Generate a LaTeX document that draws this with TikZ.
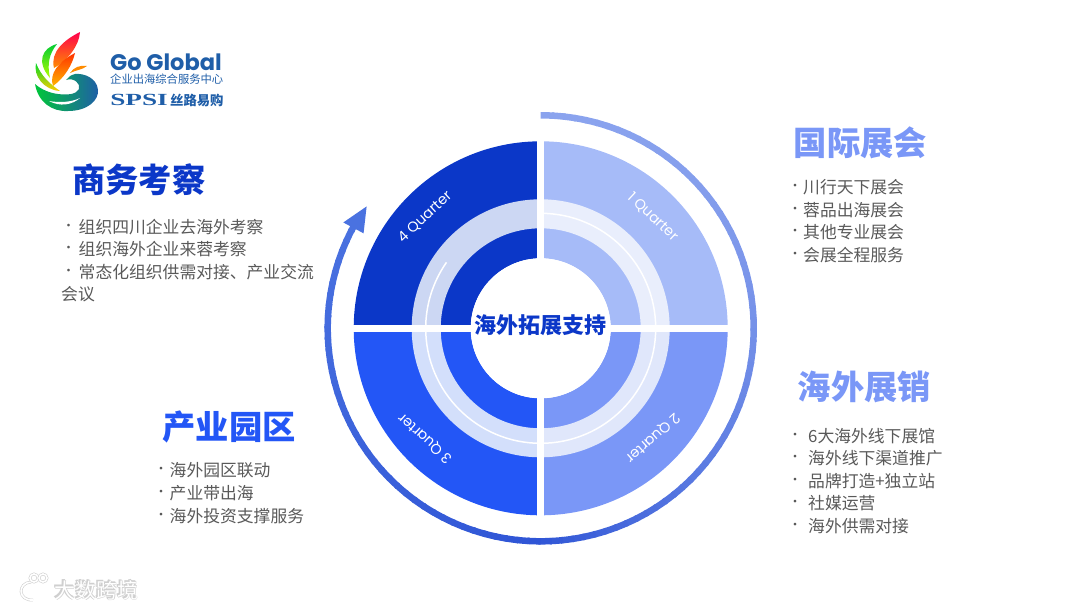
\documentclass[tikz,border=0pt]{standalone}
\usepackage{fontspec}
\setmainfont{Noto Sans CJK SC}
\newfontfamily\latinfont{Poppins}
\newfontfamily\slabfont{Liberation Serif}
\usetikzlibrary{positioning}

\definecolor{qone}{HTML}{A6BBF8}
\definecolor{qtwo}{HTML}{7A97F7}
\definecolor{qthree}{HTML}{2356F6}
\definecolor{qfour}{HTML}{0B37C8}
\definecolor{bandone}{HTML}{E9EEFC}
\definecolor{bandtwo}{HTML}{E0E7FB}
\definecolor{bandthree}{HTML}{D3DFFB}
\definecolor{bandfour}{HTML}{CCD7F3}
\definecolor{arclight}{HTML}{8AA3EE}
\definecolor{arcdark}{HTML}{2F55D6}
\definecolor{arcend}{HTML}{4A72E0}
\definecolor{listgray}{HTML}{595959}
\definecolor{logoblue}{HTML}{1F5EA8}
\definecolor{wmgray}{HTML}{CFCFCF}

\tikzset{
  titletext/.style={font=\fontsize{33.3}{38}\selectfont\bfseries, inner sep=0pt},
  listtext/.style={font=\fontsize{16.8}{20}\selectfont, text=listgray, inner sep=0pt, anchor=west},
  bulletmark/.style={font=\fontsize{13}{14}\selectfont, text=listgray, inner sep=0pt},
  quarterlabel/.style={font=\fontsize{14.3}{16}\selectfont\latinfont, text=white, inner sep=0pt},
  logotext/.style={text=logoblue, inner sep=0pt},
  wmline/.style={draw=wmgray, double=white, double distance=1.6pt, line width=0.6pt},
}

\begin{document}
\begin{tikzpicture}[x=1pt,y=-1pt]
\useasboundingbox (0,0) rectangle (1080,611);

\begin{scope}[shift={(540.7,328.3)}]
\foreach \a/\qcol/\bandcol in {-90/qone/bandone, 0/qtwo/bandtwo, 90/qthree/bandthree, 180/qfour/bandfour} {
  \fill [\qcol] (\a:187) arc[start angle=\a, end angle=\a+90, radius=187]
    -- (\a+90:70) arc[start angle=\a+90, end angle=\a, radius=70] -- cycle;
  \fill [\bandcol] (\a:129) arc[start angle=\a, end angle=\a+90, radius=129]
    -- (\a+90:100) arc[start angle=\a+90, end angle=\a, radius=100] -- cycle;
}
\draw [white, line width=1.5pt] (-90:115) arc[start angle=-90, end angle=215, radius=115];
\fill [white] (-3.3,-188) rectangle (3.3,188);
\fill [white] (-188,-3.3) rectangle (188,3.3);
\fill [white] (0,0) circle (70);

\foreach \a in {-90,-87,...,90} {
  \pgfmathsetmacro{\p}{100*((\a+90)/180)^2}
  \draw [arcdark!\p!arclight, line width=6.5pt] (\a:213) arc[start angle=\a, end angle=\a+3.6, radius=213];
}
\foreach \a in {93,96,...,207} {
  \pgfmathsetmacro{\p}{(\a-90)/1.18}
  \draw [arcend!\p!arcdark, line width=6.5pt] (\a:213) arc[start angle=\a, end angle=\a+3.6, radius=213];
}
\fill [arcend] (215:212.5) -- (208.2:224) -- (208.2:201) -- cycle;
\end{scope}

\node [font=\fontsize{22}{26}\selectfont\bfseries, text=qfour, inner sep=0pt] (hub) at (540.7,325.5) {海外拓展支持};

\node [quarterlabel, rotate=-43] (qa) at (652.7,217) {1 Quarter};
\node [quarterlabel, rotate=222] (qb) at (652.7,438.3) {2 Quarter};
\node [quarterlabel, rotate=138] (qc) at (425,438.3) {3 Quarter};
\node [quarterlabel, rotate=43] (qd) at (425,217) {4 Quarter};

\node [titletext, text=qtwo] (fair) at (860.5,143) {国际展会};
\foreach \y/\txt [count=\i] in {187/川行天下展会, 210/蓉品出海展会, 232/其他专业展会, 255/会展全程服务} {
  \node [bulletmark] (fairb\i) at (795,\y) {•};
  \node [listtext] (fairt\i) at (803,\y) {\txt};
}

\node [titletext, text=qtwo] (sale) at (864.5,387) {海外展销};
\foreach \y/\txt [count=\i] in {436/6大海外线下展馆, 458/海外线下渠道推广, 481/品牌打造+独立站, 503/社媒运营, 526/海外供需对接} {
  \node [bulletmark] (saleb\i) at (795,\y) {•};
  \node [listtext] (salet\i) at (808,\y) {\txt};
}

\node [titletext, text=qthree] (park) at (229,427) {产业园区};
\foreach \y/\txt [count=\i] in {470/海外园区联动, 493/产业带出海, 516/海外投资支撑服务} {
  \node [bulletmark] (parkb\i) at (161,\y) {•};
  \node [listtext] (parkt\i) at (169.5,\y) {\txt};
}

\node [titletext, text=qfour] (tour) at (139,180) {商务考察};
\foreach \y/\txt [count=\i] in {227/组织四川企业去海外考察, 249/组织海外企业来蓉考察, 272/常态化组织供需对接、产业交流} {
  \node [bulletmark] (tourb\i) at (68.5,\y) {•};
  \node [listtext] (tourt\i) at (78.5,\y) {\txt};
}
\node [listtext] (tourt4) at (61,294) {会议};

\shade [top color=red!70!magenta, bottom color=orange!90!yellow]
  (80,32) .. controls (79,46) and (68,60) .. (54,68) .. controls (50,52) and (64,40) .. (80,32) -- cycle;
\shade [top color=red!60!orange, bottom color=orange!60!yellow]
  (75,53) .. controls (72,66) and (64,78) .. (53,86) .. controls (49,74) and (58,62) .. (75,53) -- cycle;
\shade [top color=green!60!teal, bottom color=yellow!70!green]
  (57,44) .. controls (42,48) and (36,62) .. (50,78) .. controls (47,64) and (49,54) .. (57,44) -- cycle;
\shade [top color=green!70!teal, bottom color=yellow!60!orange]
  (36,63) .. controls (33,76) and (44,90) .. (60,91) .. controls (50,84) and (41,76) .. (36,63) -- cycle;
\shade [left color=green!55!teal, right color=logoblue]
  (35,84) .. controls (38,102) and (52,112) .. (68,111) .. controls (88,111) and (99,100) .. (98,90)
  .. controls (97,78) and (84,73) .. (75,74) .. controls (71,75) and (68,77) .. (66,80)
  .. controls (74,77) and (81,84) .. (79,89) .. controls (76,95) and (66,95) .. (58,94)
  .. controls (50,93) and (42,90) .. (35,84) -- cycle;
\fill [white] (49,101) .. controls (60,107) and (72,105) .. (80,98) .. controls (72,102) and (60,103) .. (49,101) -- cycle;
\fill [orange!90!yellow] (70,73) .. controls (74,67) and (80,65) .. (87,66) .. controls (82,70) and (76,70) .. (70,73) -- cycle;

\node [logotext, font=\fontsize{22.5}{26}\selectfont\latinfont\bfseries, anchor=west] (brand) at (110,62) {Go Global};
\node [logotext, font=\fontsize{11.3}{13}\selectfont, anchor=west] (brandsub) at (110,79) {企业出海综合服务中心};
\node [logotext, font=\fontsize{17}{19}\selectfont\slabfont\bfseries, anchor=west, xscale=1.6] (brandmark) at (110,100) {SPSI};
\node [logotext, font=\fontsize{13.3}{15}\selectfont\bfseries, anchor=west] (brandcn) at (170,100) {丝路易购};

\draw [wmline] (13,582) -- (13,600);
\draw [wmline] (31,582) .. controls (17,583) and (18,601) .. (33,600);
\draw [wmline] (34,578) circle (4);
\draw [wmline] (43,578) circle (4);
\foreach \dx/\dy [count=\i] in {0.7/0.7, -0.6/-0.5} {
  \node [font=\fontsize{21}{24}\selectfont\bfseries, text=wmgray, inner sep=0pt] (wmshade\i) at (96+\dx,590+\dy) {大数跨境};
}
\node [font=\fontsize{21}{24}\selectfont, text=white, inner sep=0pt] (wmtext) at (96,590) {大数跨境};
\end{tikzpicture}
\end{document}
